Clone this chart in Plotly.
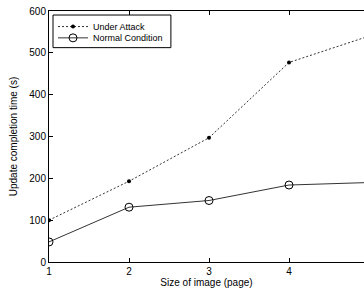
import plotly.graph_objects as go

pages = [1, 2, 3, 4, 5]
under_attack = [100, 193, 297, 477, 540]
normal_condition = [48, 131, 147, 184, 190]
y_ticks = [0, 100, 200, 300, 400, 500, 600]
x_ticks = [1, 2, 3, 4, 5]

FONT = "Liberation Sans, Arial, sans-serif"

fig = go.Figure()
fig.add_trace(go.Scatter(
    x=pages, y=under_attack, name="Under Attack", mode="lines+markers",
    line=dict(color="#333333", width=1, dash="2px,2px"),
    marker=dict(symbol="circle", size=4, color="black"),
    legend="legend",
))
fig.add_trace(go.Scatter(
    x=pages, y=normal_condition, name="Normal Condition", mode="lines+markers",
    line=dict(color="#333333", width=1),
    marker=dict(symbol="circle-open", size=8, color="black", line=dict(width=1)),
    legend="legend2",
))

leg_common = dict(
    xanchor="left", yanchor="middle",
    bgcolor="rgba(0,0,0,0)", borderwidth=0,
    font=dict(family=FONT, size=9, color="black"),
    itemwidth=30,
)

fig.update_layout(
    width=364, height=291,
    margin=dict(l=49, r=0, t=11, b=29),
    paper_bgcolor="white", plot_bgcolor="white",
    font=dict(family=FONT, size=10, color="black"),
    showlegend=True,
    legend=dict(x=0.0127, y=0.938, **leg_common),
    legend2=dict(x=0.0127, y=0.893, **leg_common),
    shapes=[dict(
        type="rect", xref="paper", yref="paper",
        x0=0.0127, x1=0.387, y0=0.854, y1=0.984,
        line=dict(color="black", width=1), fillcolor="white", layer="above",
    )],
    xaxis=dict(
        range=[1, 4.9375], tickmode="array", tickvals=x_ticks,
        ticks="inside", ticklen=4, tickcolor="black",
        showline=True, linecolor="black", linewidth=1, mirror="ticks",
        showgrid=False, zeroline=False, automargin=False,
        title=dict(text="Size of image (page)", standoff=2, font=dict(size=10)),
        tickfont=dict(size=10),
    ),
    yaxis=dict(
        range=[0, 600], tickmode="array", tickvals=y_ticks,
        ticks="inside", ticklen=4, tickcolor="black",
        showline=True, linecolor="black", linewidth=1, mirror=False,
        showgrid=False, zeroline=False, automargin=False,
        title=dict(text="Update completion time (s)", standoff=9, font=dict(size=10)),
        tickfont=dict(size=10),
    ),
)

fig.write_html(
    "out.html",
    config={"displayModeBar": False},
    post_script="document.body.style.margin='0';document.body.style.overflow='hidden';",
)
